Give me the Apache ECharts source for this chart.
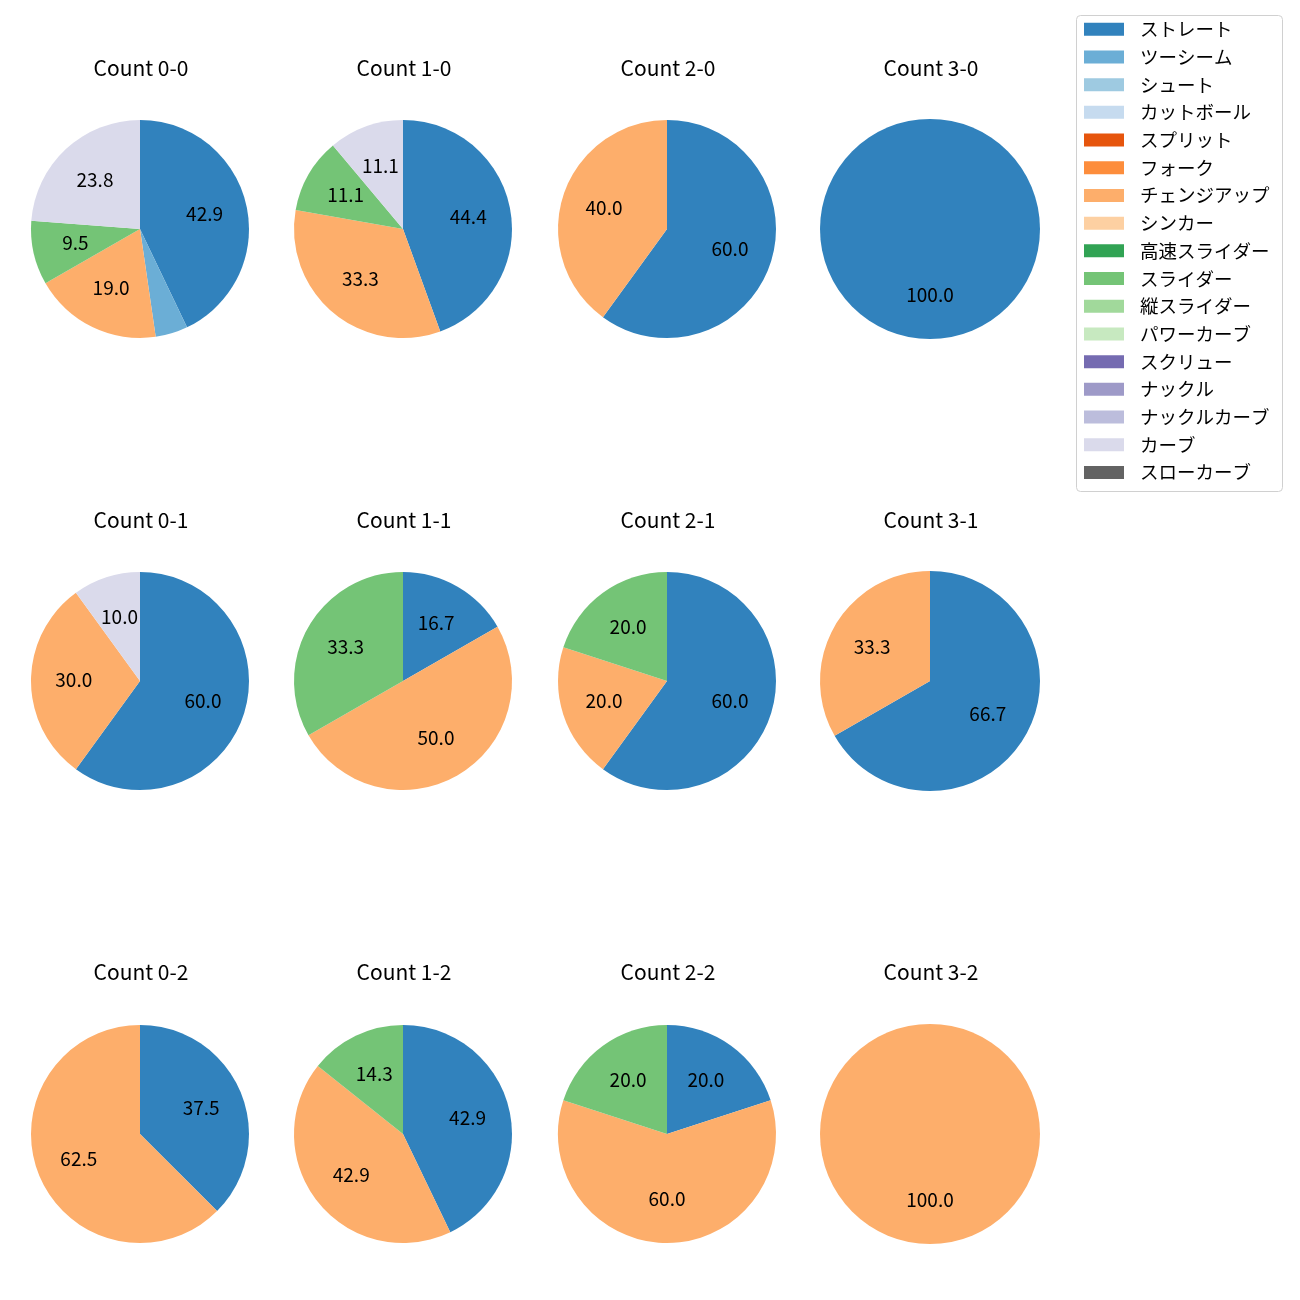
<!DOCTYPE html>
<html><head><meta charset="utf-8">
<script src="https://cdn.jsdelivr.net/npm/echarts@6/dist/echarts.min.js"></script>
<style>html,body{margin:0;padding:0;background:#fff}#c{width:1300px;height:1300px}</style>
</head><body><div id="c"></div>
<script>
const categories = ['ストレート','ツーシーム','シュート','カットボール','スプリット','フォーク','チェンジアップ','シンカー','高速スライダー','スライダー','縦スライダー','パワーカーブ','スクリュー','ナックル','ナックルカーブ','カーブ','スローカーブ'];
const colors = ['#3182bd','#6baed6','#9ecae1','#c6dbef','#e6550d','#fd8d3c','#fdae6b','#fdd0a2','#31a354','#74c476','#a1d99b','#c7e9c0','#756bb1','#9e9ac8','#bcbddc','#dadaeb','#636363'];
const countLabels = ['0-0','1-0','2-0','3-0','0-1','1-1','2-1','3-1','0-2','1-2','2-2','3-2'];
//                 Str  2S  Sht Cut Spl Frk  CH  Snk HSl  Sl  VSl PCv Scr Knk KCv  Cv  SCv
const share00 = [42.9, 4.8, 0, 0, 0, 0, 19.0, 0, 0, 9.5, 0, 0, 0, 0, 0, 23.8, 0];
const share10 = [44.4, 0, 0, 0, 0, 0, 33.3, 0, 0, 11.1, 0, 0, 0, 0, 0, 11.1, 0];
const share20 = [60.0, 0, 0, 0, 0, 0, 40.0, 0, 0, 0, 0, 0, 0, 0, 0, 0, 0];
const share30 = [100.0, 0, 0, 0, 0, 0, 0, 0, 0, 0, 0, 0, 0, 0, 0, 0, 0];
const share01 = [60.0, 0, 0, 0, 0, 0, 30.0, 0, 0, 0, 0, 0, 0, 0, 0, 10.0, 0];
const share11 = [16.7, 0, 0, 0, 0, 0, 50.0, 0, 0, 33.3, 0, 0, 0, 0, 0, 0, 0];
const share21 = [60.0, 0, 0, 0, 0, 0, 20.0, 0, 0, 20.0, 0, 0, 0, 0, 0, 0, 0];
const share31 = [66.7, 0, 0, 0, 0, 0, 33.3, 0, 0, 0, 0, 0, 0, 0, 0, 0, 0];
const share02 = [37.5, 0, 0, 0, 0, 0, 62.5, 0, 0, 0, 0, 0, 0, 0, 0, 0, 0];
const share12 = [42.9, 0, 0, 0, 0, 0, 42.9, 0, 0, 14.3, 0, 0, 0, 0, 0, 0, 0];
const share22 = [20.0, 0, 0, 0, 0, 0, 60.0, 0, 0, 20.0, 0, 0, 0, 0, 0, 0, 0];
const share32 = [0, 0, 0, 0, 0, 0, 100.0, 0, 0, 0, 0, 0, 0, 0, 0, 0, 0];
const shares = [share00, share10, share20, share30, share01, share11, share21, share31, share02, share12, share22, share32];

const FONT = '"Noto Sans CJK JP", "Noto Sans", sans-serif';
const colX = [140, 403, 667, 930];
const rowY = [229, 681, 1134];
const radii = [109, 109, 109, 110];
const titleY = [58, 510, 962];

const series = [];
// hidden series carrying every category so the legend lists all of them with colours
series.push({
  type: 'pie', radius: [0, 0], center: [-100, -100], silent: true,
  label: {show: false}, labelLine: {show: false},
  data: categories.map((n, i) => ({name: n, value: 1, itemStyle: {color: colors[i]}}))
});
const titles = [];
shares.forEach((arr, k) => {
  const c = k % 4, r = Math.floor(k / 4);
  const data = [];
  arr.forEach((v, i) => { if (v > 0) data.push({name: categories[i], value: v, itemStyle: {color: colors[i]}}); });
  const R = radii[c];
  series.push({
    type: 'pie', center: [colX[c], rowY[r]], radius: [0, R], startAngle: 90, clockwise: true,
    silent: true, animation: false,
    itemStyle: {borderWidth: 0},
    label: {show: false}, labelLine: {show: false},
    data: data
  });
  series.push({
    type: 'pie', center: [colX[c], rowY[r]], radius: [R * 0.16, R], startAngle: 90, clockwise: true,
    silent: true, animation: false,
    itemStyle: {borderWidth: 0, color: 'rgba(0,0,0,0)'},
    label: {show: true, position: 'inside', color: '#000', fontSize: 19, fontFamily: FONT, offset: [0, -1],
      formatter: p => p.value < 5 ? '' : p.value.toFixed(1)},
    labelLine: {show: false},
    data: data.map(d => ({name: d.name, value: d.value, itemStyle: {color: 'rgba(0,0,0,0)'}}))
  });
  titles.push({
    text: 'Count ' + countLabels[k], left: colX[c] + 1, top: titleY[r], textAlign: 'center', padding: 0,
    textStyle: {fontSize: 21, fontWeight: 'normal', color: '#000', fontFamily: FONT}
  });
});

const chart = echarts.init(document.getElementById('c'), null, {renderer: 'canvas'});
chart.setOption({
  animation: false,
  title: titles,
  graphic: [{type: 'rect', shape: {x: 1076.5, y: 15.5, width: 206, height: 476, r: 4},
    style: {fill: '#fff', stroke: '#d0d0d0', lineWidth: 1}, z: 0}],
  legend: {
    orient: 'vertical', left: 1084, top: 20, padding: 0, itemGap: 9.2,
    itemWidth: 40, itemHeight: 13, icon: 'rect', selectedMode: false,
    data: categories,
    textStyle: {fontSize: 18.5, lineHeight: 18.5, color: '#000', fontFamily: FONT, padding: [0, 0, 0, 11]}
  },
  series: series
});
</script></body></html>
